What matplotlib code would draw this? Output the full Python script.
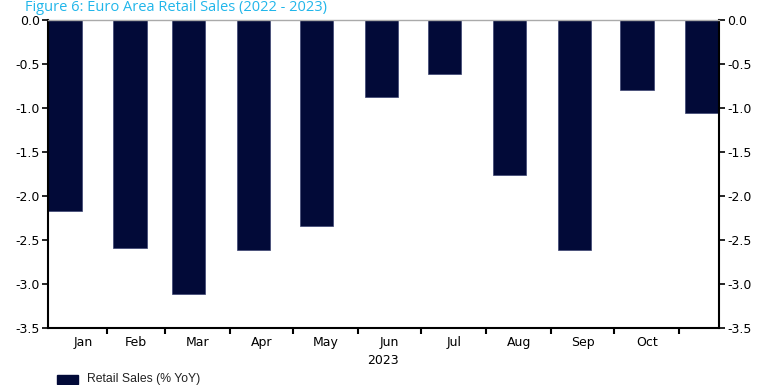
import matplotlib
matplotlib.use("Agg")
import matplotlib.pyplot as plt
import matplotlib.dates as mdates
import datetime as dt

# Data
months = ["Jan", "Feb", "Mar", "Apr", "May", "Jun", "Jul", "Aug", "Sep", "Oct", "Nov"]
month_nums = [1, 2, 3, 4, 5, 6, 7, 8, 9, 10, 11]
retail_sales = [-2.17, -2.59, -3.11, -2.61, -2.34, -0.88, -0.61, -1.76, -2.61, -0.79, -1.06]
year = 2023
yticks = [0.0, -0.5, -1.0, -1.5, -2.0, -2.5, -3.0, -3.5]
title = "Figure 6: Euro Area Retail Sales (2022 - 2023)"
series_name = "Retail Sales (% YoY)"

bar_color = "#020A38"
W, H = 757, 385
fig = plt.figure(figsize=(W / 100, H / 100), dpi=100)
ax = fig.add_axes([48 / W, 1 - 328 / H, (719 - 48) / W, (328 - 20) / H])

dates = [dt.date(year, m, 1) for m in month_nums]
xd = mdates.date2num(dates)
bar_w = 16
ax.bar(xd, retail_sales, width=bar_w, align="edge", color=bar_color,
       edgecolor="#3a4270", linewidth=0.5, zorder=2)

ax.set_xlim(mdates.date2num(dt.date(year, 1, 1)), mdates.date2num(dt.date(year, 11, 1)) + bar_w)
ax.set_ylim(-3.5, 0.0)

# y axis both sides
ax.set_yticks(yticks)
ax.set_yticklabels([f"{v:.1f}" for v in yticks])
ax.tick_params(axis="y", which="both", left=True, right=True, labelleft=True, labelright=True,
               direction="out", length=4, width=1.2, labelsize=9, pad=2, colors="black")

# x ticks: month boundaries (slightly before bar start)
tick_pos = [xd[i] - 3 for i in range(1, len(xd))]
ax.set_xticks(tick_pos)
ax.set_xticklabels([])
ax.tick_params(axis="x", which="major", direction="out", length=4, width=1.5, bottom=True)
label_pos = []
edges = [xd[0] - 3 + 9] + tick_pos + [ax.get_xlim()[1]]
for i in range(len(months) - 1):
    label_pos.append((edges[i] + edges[i + 1]) / 2)
ax.set_xticks(label_pos, minor=True)
ax.set_xticklabels(months[:-1], minor=True)
ax.tick_params(axis="x", which="minor", length=0, labelsize=9, pad=6)

for side in ["left", "right", "bottom"]:
    ax.spines[side].set_color("black")
    ax.spines[side].set_linewidth(1.5)
ax.spines["top"].set_color("#aaaaaa")
ax.spines["top"].set_linewidth(1.0)

# year label
fig.text(383 / W, 1 - 361 / H, str(year), ha="center", va="center", fontsize=9)

# title
fig.text(25 / W, 1 - 11 / H, title, ha="left", va="baseline", fontsize=10.5,
         color="#21B6EA", family="Open Sans")

# legend
fig.patches.append(plt.Rectangle((57 / W, 1 - 384 / H), 21 / W, 9 / H, transform=fig.transFigure,
                                 color=bar_color, figure=fig))
fig.text(87 / W, 1 - 379 / H, series_name, ha="left", va="center", fontsize=8.8,
         family="Liberation Sans", color="#222222")

fig.savefig("out.png", dpi=100)
